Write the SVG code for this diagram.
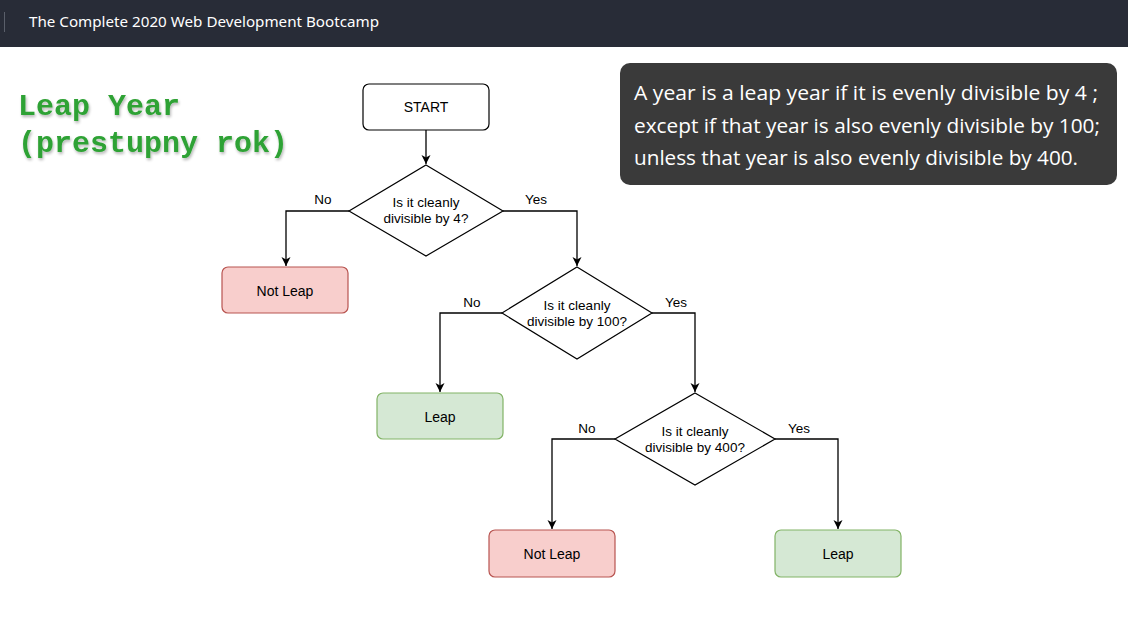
<svg xmlns="http://www.w3.org/2000/svg" width="1128" height="635" viewBox="0 0 1128 635">
<defs>
<marker id="arr" markerWidth="12" markerHeight="12" refX="10" refY="6" orient="auto" markerUnits="userSpaceOnUse">
<path d="M1,1.5 L10,6 L1,10.5 L3.5,6 Z" fill="#000"/>
</marker>
<filter id="glow" x="-10%" y="-30%" width="120%" height="160%">
<feGaussianBlur in="SourceAlpha" stdDeviation="1.5"/>
<feOffset dx="1" dy="2" result="b"/>
<feComponentTransfer><feFuncA type="linear" slope="0.3"/></feComponentTransfer>
<feMerge><feMergeNode/><feMergeNode in="SourceGraphic"/></feMerge>
</filter>
</defs>
<style>
.lbl{font-family:"Liberation Sans",Arial,sans-serif;font-size:13.5px;fill:#000;text-anchor:middle}
.bl{font-size:14px}
.box{stroke-width:1.2}
.dia{fill:#fff;stroke:#000;stroke-width:1.2}
.con{fill:none;stroke:#000;stroke-width:1.3;marker-end:url(#arr)}
.note{font-family:"Open Sans","DejaVu Sans",sans-serif;font-size:20px;fill:#fff}
.big{font-family:"Liberation Mono",monospace;font-weight:bold;font-size:30px;fill:#2ea234}
</style>
<rect width="1128" height="635" fill="#fff"/>
<g id="titlebar">
<rect width="1128" height="47" fill="#282c37"/>
<line x1="4.5" y1="12" x2="4.5" y2="32" stroke="#5a5f6a" stroke-width="1"/>
<text x="29" y="27" font-family="'Noto Sans','Open Sans',sans-serif" font-size="15" fill="#fff" textLength="350" lengthAdjust="spacingAndGlyphs">The Complete 2020 Web Development Bootcamp</text>
</g>
<g id="heading" filter="url(#glow)">
<text class="big" x="18" y="115">Leap Year</text>
<text class="big" x="18" y="152">(prestupny rok)</text>
</g>
<g id="note">
<rect x="620" y="63" width="497" height="122" rx="10" fill="#3a3a3a"/>
<text class="note" x="634" y="100" textLength="464" lengthAdjust="spacingAndGlyphs">A year is a leap year if it is evenly divisible by 4 ;</text>
<text class="note" x="634" y="133" textLength="466" lengthAdjust="spacingAndGlyphs">except if that year is also evenly divisible by 100;</text>
<text class="note" x="634" y="165" textLength="444" lengthAdjust="spacingAndGlyphs">unless that year is also evenly divisible by 400.</text>
</g>
<g id="connectors">
<path class="con" d="M426,130 L426,164"/>
<path class="con" d="M349,211 L286,211 L286,266"/>
<path class="con" d="M503,211 L577,211 L577,266"/>
<path class="con" d="M502,313 L440,313 L440,392"/>
<path class="con" d="M652,313 L695,313 L695,392"/>
<path class="con" d="M615,439 L552,439 L552,529"/>
<path class="con" d="M775,439 L838,439 L838,529"/>
<text class="lbl" x="323" y="204">No</text>
<text class="lbl" x="536" y="204">Yes</text>
<text class="lbl" x="472" y="307">No</text>
<text class="lbl" x="676" y="307">Yes</text>
<text class="lbl" x="587" y="433">No</text>
<text class="lbl" x="799" y="433">Yes</text>
</g>
<g id="start">
<rect x="363" y="84" width="126" height="46" rx="6" fill="#fff" stroke="#000" class="box"/>
<text class="lbl bl" x="426" y="112">START</text>
</g>
<g id="d4">
<polygon class="dia" points="426,165 503,211 426,256 349,211"/>
<text class="lbl" x="426" y="207">Is it cleanly</text>
<text class="lbl" x="426" y="223">divisible by 4?</text>
</g>
<g id="notleap1">
<rect x="222" y="267" width="126" height="46" rx="6" fill="#f8cecc" stroke="#b85450" class="box"/>
<text class="lbl bl" x="285" y="296">Not Leap</text>
</g>
<g id="d100">
<polygon class="dia" points="577,267 652,313 577,359 502,313"/>
<text class="lbl" x="577" y="310">Is it cleanly</text>
<text class="lbl" x="577" y="326">divisible by 100?</text>
</g>
<g id="leap1">
<rect x="377" y="393" width="126" height="46" rx="6" fill="#d5e8d4" stroke="#82b366" class="box"/>
<text class="lbl bl" x="440" y="422">Leap</text>
</g>
<g id="d400">
<polygon class="dia" points="695,393 775,439 695,485 615,439"/>
<text class="lbl" x="695" y="436">Is it cleanly</text>
<text class="lbl" x="695" y="452">divisible by 400?</text>
</g>
<g id="notleap2">
<rect x="489" y="530" width="126" height="47" rx="6" fill="#f8cecc" stroke="#b85450" class="box"/>
<text class="lbl bl" x="552" y="559">Not Leap</text>
</g>
<g id="leap2">
<rect x="775" y="530" width="126" height="47" rx="6" fill="#d5e8d4" stroke="#82b366" class="box"/>
<text class="lbl bl" x="838" y="559">Leap</text>
</g>
</svg>
